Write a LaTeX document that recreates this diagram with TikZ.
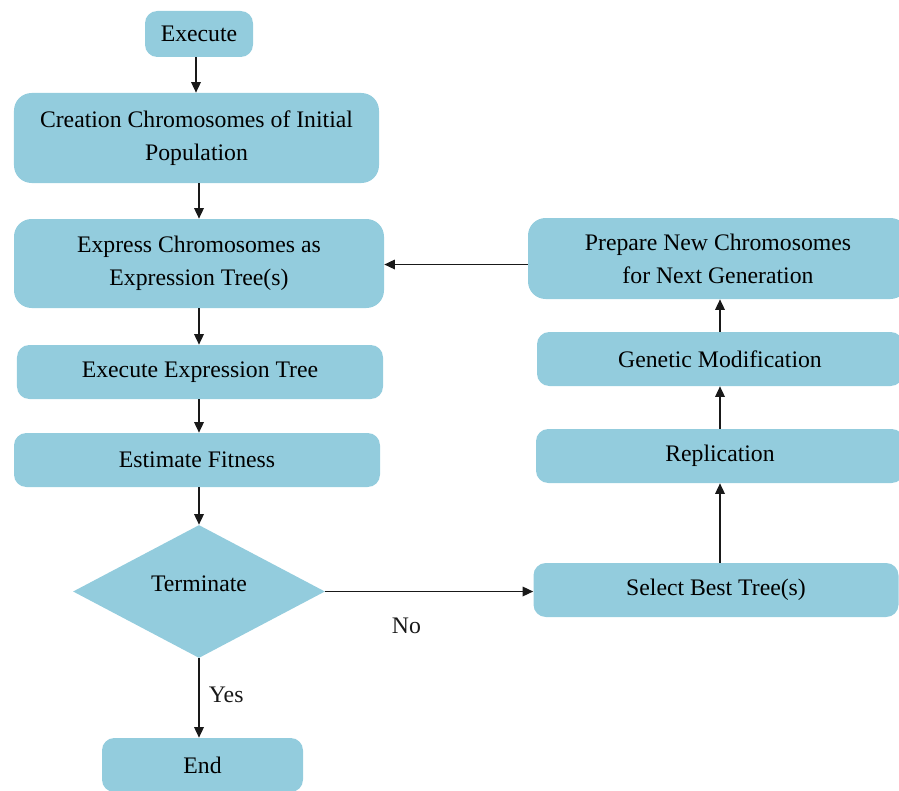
\documentclass[tikz,border=0pt]{standalone}
\usepackage{fontspec}
\setmainfont{Liberation Serif}
\usetikzlibrary{arrows.meta,shapes.geometric}
\definecolor{boxblue}{RGB}{147,204,221}

\begin{document}
\begin{tikzpicture}[
    box/.style={fill=boxblue, rounded corners=7pt, align=center, inner sep=0pt,
        font=\fontsize{13.5}{18.8}\selectfont},
    flow/.style={-{Triangle[length=6pt,width=5.5pt]}, line width=0.7pt, color=black!90,
        font=\fontsize{13.5}{16}\selectfont}
]
\useasboundingbox (0,0) rectangle (17.98,-15.82);
\clip (0,0) rectangle (17.98,-15.82);

% \draw[color=gray,step=1.0,dotted] (0,-15.82) grid (17.98,0);

% left column
\node[box, minimum width=2.16cm, minimum height=0.92cm] (exec) at (3.98,-0.68) {Execute};
\node[box, minimum width=7.3cm, minimum height=1.8cm, rounded corners=10pt] (create) at (3.93,-2.76)
    {Creation Chromosomes of Initial\\Population};
\node[box, minimum width=7.4cm, minimum height=1.78cm, rounded corners=10pt] (express) at (3.98,-5.27)
    {Express Chromosomes as\\Expression Tree(s)};
\node[box, minimum width=7.32cm, minimum height=1.08cm] (run) at (4.0,-7.44) {Execute Expression Tree};
\node[box, minimum width=7.32cm, minimum height=1.08cm] (fitness) at (3.94,-9.2) {Estimate Fitness};
\node[diamond, fill=boxblue, minimum width=5.04cm, minimum height=2.66cm, inner sep=0pt,
    font=\fontsize{13.5}{16}\selectfont] (term) at (3.98,-11.83) {\raisebox{0.3cm}{Terminate}};
\node[box, minimum width=4.02cm, minimum height=1.08cm] (finish) at (4.05,-15.3) {End};

% right column
\node[box, minimum width=7.6cm, minimum height=1.62cm, rounded corners=10pt] (prepare) at (14.36,-5.17)
    {Prepare New Chromosomes\\for Next Generation};
\node[box, minimum width=7.32cm, minimum height=1.08cm] (genmod) at (14.4,-7.18) {Genetic Modification};
\node[box, minimum width=7.36cm, minimum height=1.08cm] (repl) at (14.4,-9.12) {Replication};
\node[box, minimum width=7.3cm, minimum height=1.08cm] (select) at (14.32,-11.8) {Select Best Tree(s)};

\draw[flow] ([xshift=-0.06cm]exec.south) -- ([xshift=-0.06cm]exec.south |- create.north);
\draw[flow] (create.south -| express.north) -- (express.north);
\draw[flow] (express.south) -- (express.south |- run.north);
\draw[flow] (express.south |- run.south) -- (express.south |- fitness.north);
\draw[flow] (express.south |- fitness.south) -- (term.north);
\draw[flow] (term.south) -- (term.south |- finish.north) node[pos=0.46, right=2pt]{Yes};
\draw[flow] (term.east) -- (term.east -| select.west) node[pos=0.39, below=0.4cm]{No};
\draw[flow] (repl.south |- select.north) -- (repl.south);
\draw[flow] (repl.north) -- (genmod.south);
\draw[flow] (genmod.north) -- (genmod.north |- prepare.south);
\draw[flow] ([yshift=-0.12cm]prepare.west) -- ([yshift=-0.12cm]prepare.west -| express.east);

\end{tikzpicture}
\end{document}
